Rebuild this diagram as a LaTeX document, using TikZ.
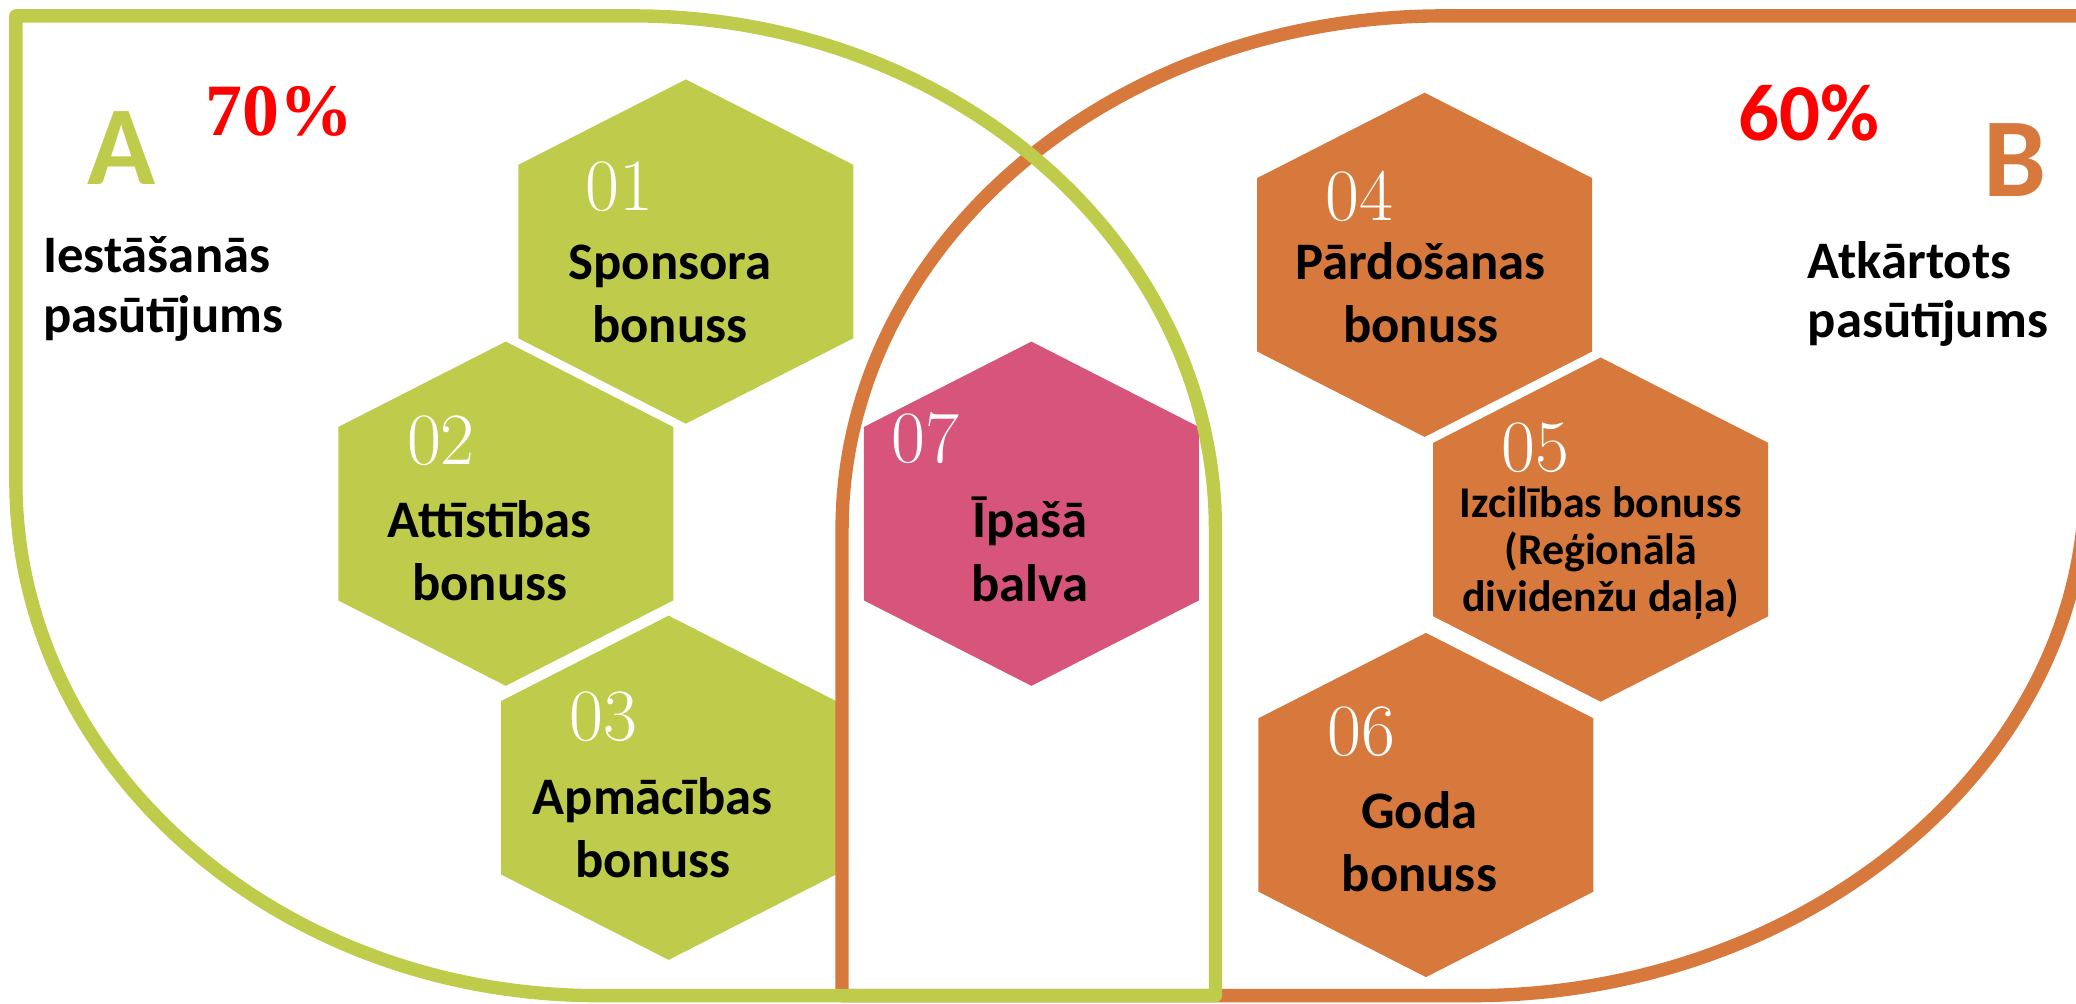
\documentclass[tikz,border=0pt]{standalone}
\usepackage{fontspec}
\usepackage{tikz}
\usetikzlibrary{calc}
\newfontfamily\calfont{Carlito}
\newfontfamily\pctfont{Liberation Serif}
\definecolor{limeA}{RGB}{191,203,74}
\definecolor{rustB}{RGB}{215,121,61}
\definecolor{roseC}{RGB}{215,85,122}
\tikzset{hex label/.style={font=\calfont\bfseries\fontsize{15}{18}\selectfont,align=center,inner sep=0pt}}
\tikzset{small hex label/.style={hex label,font=\calfont\bfseries\fontsize{12.5}{13.4}\selectfont}}
\tikzset{hex number/.style={font=\fontsize{21}{21}\selectfont,text=white,inner sep=0pt}}
\tikzset{side label/.style={font=\calfont\bfseries\fontsize{15}{17}\selectfont,align=left,anchor=west,inner sep=0pt}}
\tikzset{big letter/.style={font=\calfont\bfseries\fontsize{32}{32}\selectfont,inner sep=0pt}}
\tikzset{percent/.style={text=red,inner sep=0pt}}
\tikzset{venn line/.style={line width=3.8pt,line join=round}}
\newcommand{\hexcell}[2]{\fill[#2] (#1) ++(0,-130) -- ++(126.5,64.5) -- ++(0,131) -- ++(-126.5,64.5) -- ++(-126.5,-64.5) -- ++(0,-131) -- cycle;}

\begin{document}
\begin{tikzpicture}[x=0.01324cm, y=-0.01324cm]
                    \useasboundingbox (0,0) rectangle (1568,758);
                    \clip (0,0) rectangle (1568,758);
                    %\draw[help lines, step=100] (0,0) grid (1568,758);

                    \coordinate (H1) at (518,190);
                    \coordinate (H2) at (382,388);
                    \coordinate (H3) at (505,595);
                    \coordinate (H7) at (779,388);
                    \coordinate (H4) at (1076,200);
                    \coordinate (H5) at (1209,400);
                    \coordinate (H6) at (1077,608);

                    \hexcell{H1}{limeA}
                    \hexcell{H2}{limeA}
                    \hexcell{H3}{limeA}
                    \hexcell{H7}{roseC}
                    \hexcell{H4}{rustB}
                    \hexcell{H5}{rustB}
                    \hexcell{H6}{rustB}

                    \node[hex number] at (468,141) (N1){01};
                    \node[hex label] at (506,222) (L1){Sponsora\\bonuss};
                    \node[hex number] at (333,333) (N2){02};
                    \node[hex label] at (370,416) (L2){Attīstības\\bonuss};
                    \node[hex number] at (456,541) (N3){03};
                    \node[hex label] at (493,625) (L3){Apmācības\\bonuss};
                    \node[hex number] at (699,331) (N7){07};
                    \node[hex label] at (778,415) (L7){Īpašā\\balva};
                    \node[hex number] at (1027,148) (N4){04};
                    \node[hex label] at (1073,221) (L4){Pārdošanas\\bonuss};
                    \node[hex number] at (1160,338) (N5){05};
                    \node[small hex label] at (1209,418) (L5){Izcilības bonuss\\(Reģionālā\\dividenžu daļa)};
                    \node[hex number] at (1028,553) (N6){06};
                    \node[hex label] at (1072,636) (L6){Goda\\bonuss};

                    % the two sets
                    \draw[venn line, rustB] (636,752) -- (636,400) .. controls (636,186) and (839,12) .. (1090,12) -- (1575,12) -- (1575,364) .. controls (1575,578) and (1363,752) .. (1112,752) -- cycle;
                    \draw[venn line, limeA] (12,364) -- (12,12) -- (478,12) .. controls (721,12) and (918,186) .. (918,400) -- (918,752) -- (452,752) .. controls (209,752) and (12,578) .. (12,364) -- cycle;

                    \node[big letter, text=limeA] at (92,112) (SA){A};
                    \node[percent, font=\pctfont\bfseries\fontsize{21}{21}\selectfont] at (211,84) (PA){70\%};
                    \node[side label] at (32,218) (TA){Iestāšanās\\pasūtījums};

                    \node[big letter, text=rustB] at (1522,121) (SB){B};
                    \node[percent, font=\calfont\bfseries\fontsize{23}{23}\selectfont] at (1366,85) (PB){60\%};
                    \node[side label] at (1365,222) (TB){Atkārtots\\pasūtījums};

\end{tikzpicture}
\end{document}
